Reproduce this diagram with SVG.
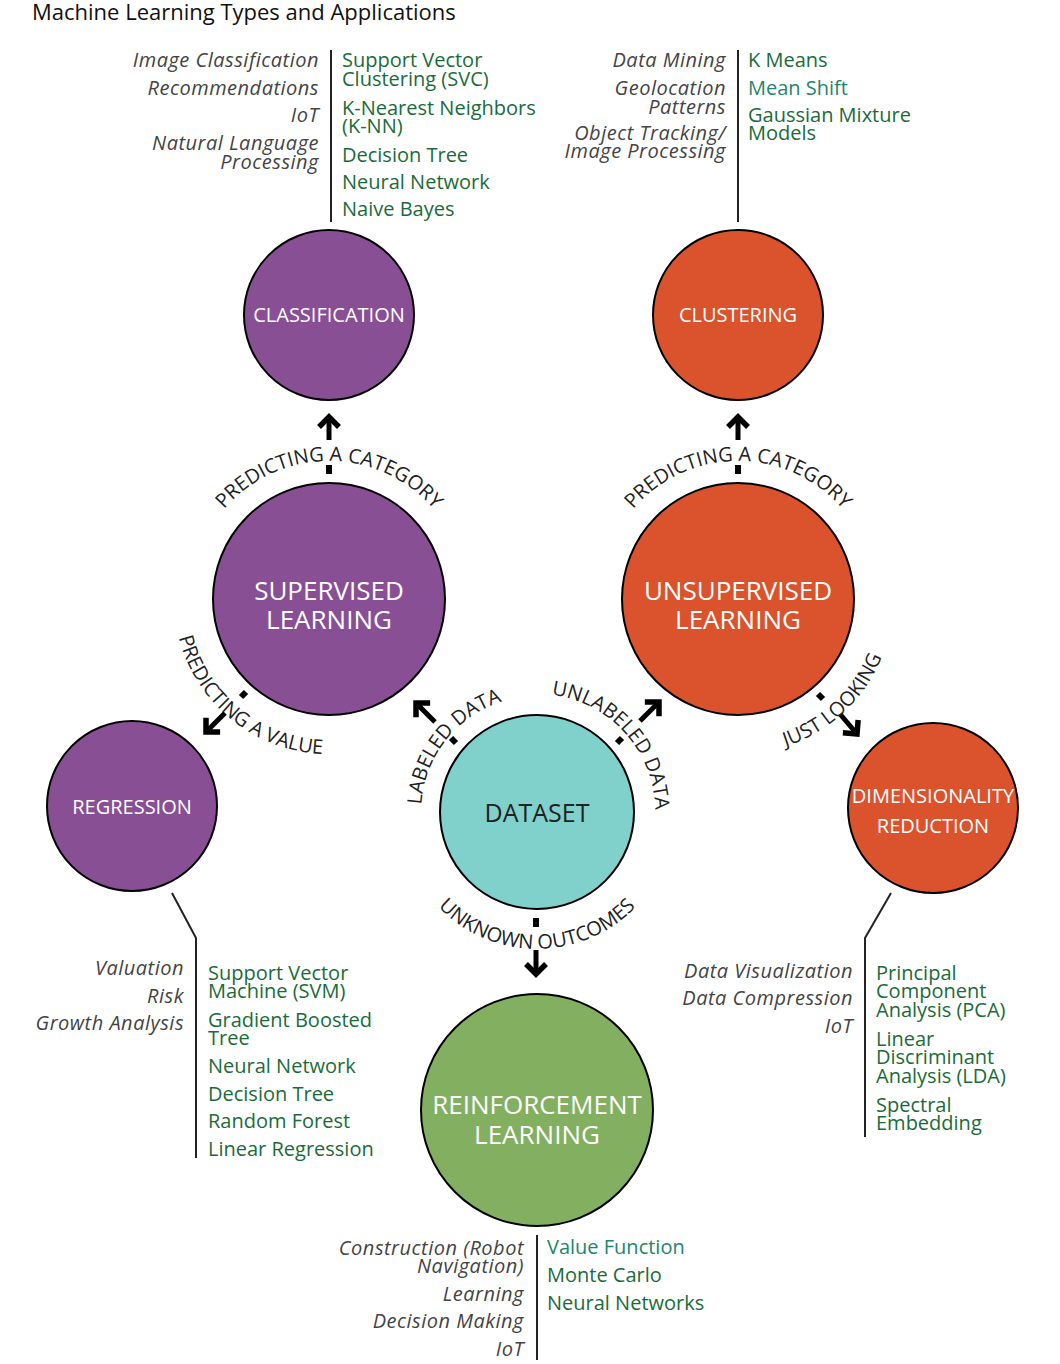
<svg xmlns="http://www.w3.org/2000/svg" width="1060" height="1364" viewBox="0 0 1060 1364">
<style>
text{font-family:"Open Sans","Noto Sans","Liberation Sans",sans-serif}
.title{font-size:22px;fill:#111}
.app{font-size:20px;font-style:italic;fill:#444;text-anchor:end;letter-spacing:0.5px}
.alg{font-size:20px;fill:#1b6b3a}
.alg2{fill:#24846c}
.node circle{stroke:#000;stroke-width:2}
.purple{fill:#894f94}
.orange{fill:#da532c}
.teal{fill:#80d0cc}
.green{fill:#83af60}
.nl{fill:#fff;text-anchor:middle}
.s20{font-size:20px}
.s26{font-size:26px}
.curve{font-size:20px;fill:#222}
.lead{stroke:#222;stroke-width:2;fill:none}
.dash{stroke:#000;stroke-width:6;fill:none}
.arr{stroke:#000;stroke-width:5;fill:none;marker-end:url(#chev)}
</style>
<defs>
<marker id="chev" viewBox="0 0 30 30" refX="20" refY="15" markerWidth="30" markerHeight="30" orient="auto" markerUnits="userSpaceOnUse">
<path d="M10,5 L20,15 L10,25" fill="none" stroke="#000" stroke-width="5.5"/>
</marker>
<path id="p1" d="M191,599 A138,138 0 0 1 467,599"/>
<path id="p2" d="M600,599 A138,138 0 0 1 876,599"/>
<path id="p3" d="M193.4,523.9 A155,155 0 0 0 430.7,716"/>
<path id="p4" d="M450.8,889.6 A116,116 0 0 1 591.5,709.6"/>
<path id="p5" d="M474.5,711.9 A118,118 0 0 1 630,884.7"/>
<path id="p6" d="M644.7,722.8 A155,155 0 0 0 868,514.6"/>
<path id="p7" d="M402.1,835.8 A137,137 0 0 0 671.9,835.8"/>
</defs>
<rect width="1060" height="1364" fill="#fff"/>
<text class="title" x="32" y="20">Machine Learning Types and Applications</text>

<g id="connectors">
<path class="dash" d="M329,474 V465"/>
<path class="arr" d="M329,440 V417"/>
<path class="dash" d="M738,474 V465"/>
<path class="arr" d="M738,440 V417"/>
<path class="dash" d="M246,692 L241,697"/>
<path class="arr" d="M225,713 L206,732"/>
<path class="dash" d="M456,743 L451,738"/>
<path class="arr" d="M435,722 L416,703"/>
<path class="dash" d="M617,743 L622,738"/>
<path class="arr" d="M640,721 L659,702"/>
<path class="dash" d="M818,694 L823,699"/>
<path class="arr" d="M840,714 L857,734"/>
<path class="dash" d="M536,918 V927"/>
<path class="arr" d="M536,950 V974"/>
<text class="curve"><textPath href="#p1" startOffset="50%" text-anchor="middle">PREDICTING A CATEGORY</textPath></text>
<text class="curve"><textPath href="#p2" startOffset="50%" text-anchor="middle">PREDICTING A CATEGORY</textPath></text>
<text class="curve"><textPath href="#p3" startOffset="50%" text-anchor="middle">PREDICTING A VALUE</textPath></text>
<text class="curve"><textPath href="#p4" startOffset="50%" text-anchor="middle">LABELED DATA</textPath></text>
<text class="curve"><textPath href="#p5" startOffset="50%" text-anchor="middle">UNLABELED DATA</textPath></text>
<text class="curve"><textPath href="#p6" startOffset="50%" text-anchor="middle">JUST LOOKING</textPath></text>
<text class="curve"><textPath href="#p7" startOffset="50%" text-anchor="middle">UNKNOWN OUTCOMES</textPath></text>
<path class="lead" d="M331,50 V222"/>
<path class="lead" d="M738,50 V222"/>
<path class="lead" d="M172,893 L196,938 V1158"/>
<path class="lead" d="M891,893 L865,938 V1137"/>
<path class="lead" d="M537,1235 V1360"/>
</g>

<g id="classification" class="node">
<circle class="purple" cx="329" cy="315" r="85"/>
<text class="nl s20" x="329" y="322">CLASSIFICATION</text>
</g>
<g id="clustering" class="node">
<circle class="orange" cx="738" cy="315" r="85"/>
<text class="nl s20" x="738" y="322">CLUSTERING</text>
</g>
<g id="supervised" class="node">
<circle class="purple" cx="329" cy="599" r="116"/>
<text class="nl s26" x="329" y="600">SUPERVISED</text>
<text class="nl s26" x="329" y="629">LEARNING</text>
</g>
<g id="unsupervised" class="node">
<circle class="orange" cx="738" cy="599" r="116"/>
<text class="nl s26" x="738" y="600">UNSUPERVISED</text>
<text class="nl s26" x="738" y="629">LEARNING</text>
</g>
<g id="regression" class="node">
<circle class="purple" cx="132" cy="806" r="85"/>
<text class="nl s20" x="132" y="814">REGRESSION</text>
</g>
<g id="dataset" class="node">
<circle class="teal" cx="537" cy="812" r="97"/>
<text x="537" y="822" font-size="25" fill="#222" text-anchor="middle">DATASET</text>
</g>
<g id="dimensionality-reduction" class="node">
<circle class="orange" cx="933" cy="808" r="85"/>
<text class="nl s20" x="933" y="803">DIMENSIONALITY</text>
<text class="nl s20" x="933" y="833">REDUCTION</text>
</g>
<g id="reinforcement" class="node">
<circle class="green" cx="537" cy="1110" r="116"/>
<text class="nl s26" x="537" y="1114">REINFORCEMENT</text>
<text class="nl s26" x="537" y="1144">LEARNING</text>
</g>

<g id="classification-list">
<text class="app" x="319" y="67">Image Classification</text>
<text class="app" x="319" y="95">Recommendations</text>
<text class="app" x="319" y="122">IoT</text>
<text class="app" x="319" y="150">Natural Language</text>
<text class="app" x="319" y="169">Processing</text>
<text class="alg" x="342" y="67">Support Vector</text>
<text class="alg" x="342" y="86">Clustering (SVC)</text>
<text class="alg" x="342" y="115">K-Nearest Neighbors</text>
<text class="alg" x="342" y="133">(K-NN)</text>
<text class="alg" x="342" y="162">Decision Tree</text>
<text class="alg" x="342" y="189">Neural Network</text>
<text class="alg" x="342" y="216">Naive Bayes</text>
</g>
<g id="clustering-list">
<text class="app" x="726" y="67">Data Mining</text>
<text class="app" x="726" y="95">Geolocation</text>
<text class="app" x="726" y="114">Patterns</text>
<text class="app" x="726" y="140">Object Tracking/</text>
<text class="app" x="726" y="158">Image Processing</text>
<text class="alg" x="748" y="67">K Means</text>
<text class="alg alg2" x="748" y="95">Mean Shift</text>
<text class="alg" x="748" y="122">Gaussian Mixture</text>
<text class="alg" x="748" y="140">Models</text>
</g>
<g id="regression-list">
<text class="app" x="184" y="975">Valuation</text>
<text class="app" x="184" y="1003">Risk</text>
<text class="app" x="184" y="1030">Growth Analysis</text>
<text class="alg" x="208" y="980">Support Vector</text>
<text class="alg" x="208" y="998">Machine (SVM)</text>
<text class="alg" x="208" y="1027">Gradient Boosted</text>
<text class="alg" x="208" y="1045">Tree</text>
<text class="alg" x="208" y="1073">Neural Network</text>
<text class="alg" x="208" y="1101">Decision Tree</text>
<text class="alg" x="208" y="1128">Random Forest</text>
<text class="alg" x="208" y="1156">Linear Regression</text>
</g>
<g id="dimensionality-list">
<text class="app" x="853" y="978">Data Visualization</text>
<text class="app" x="853" y="1005">Data Compression</text>
<text class="app" x="853" y="1033">IoT</text>
<text class="alg" x="876" y="980">Principal</text>
<text class="alg" x="876" y="998">Component</text>
<text class="alg" x="876" y="1017">Analysis (PCA)</text>
<text class="alg" x="876" y="1046">Linear</text>
<text class="alg" x="876" y="1064">Discriminant</text>
<text class="alg" x="876" y="1083">Analysis (LDA)</text>
<text class="alg" x="876" y="1112">Spectral</text>
<text class="alg" x="876" y="1130">Embedding</text>
</g>
<g id="reinforcement-list">
<text class="app" x="524" y="1255">Construction (Robot</text>
<text class="app" x="524" y="1273">Navigation)</text>
<text class="app" x="524" y="1301">Learning</text>
<text class="app" x="524" y="1328">Decision Making</text>
<text class="app" x="524" y="1356">IoT</text>
<text class="alg alg2" x="547" y="1254">Value Function</text>
<text class="alg" x="547" y="1282">Monte Carlo</text>
<text class="alg" x="547" y="1310">Neural Networks</text>
</g>
</svg>
